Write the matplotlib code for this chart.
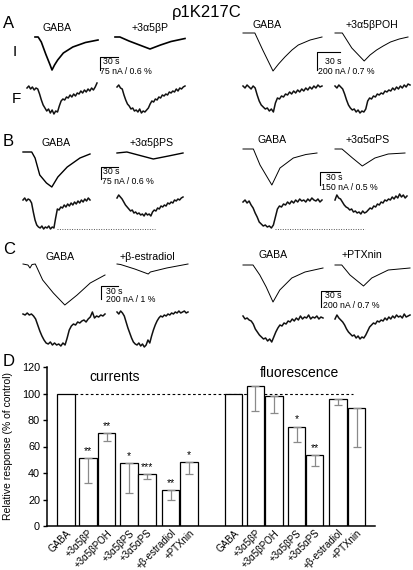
import numpy as np
import matplotlib
matplotlib.use("Agg")
import matplotlib.pyplot as plt

plt.rcParams["font.family"] = ["Liberation Sans", "DejaVu Sans"]

# -----------------------------
# Panel D: summary bars (% of GABA control)
# -----------------------------

conditions = ["GABA", "+3α5βP", "+3α5βPOH", "+3α5βPS", "+3α5αPS", "+β-estradiol", "+PTXnin"]
currents = [100, 51, 70, 47.5, 39, 27, 48]
currents_low = [100, 32.5, 64, 25, 35.5, 20, 39]
currents_stars = ["", "**", "**", "*", "***", "**", "*"]
fluor = [100, 106, 98, 75, 53.5, 95.5, 89]
fluor_low = [100, 87, 85, 63.5, 45, 91, 59.5]
fluor_stars = ["", "", "", "*", "**", "", ""]

# -----------------------------
# Example traces (pixels below the trace start)
# I = current (t in 0..1, smooth), F = fluorescence (evenly sampled)
# -----------------------------

a_gaba_i_t = [0, 0.05, 0.1, 0.17, 0.24, 0.27, 0.31, 0.36, 0.45, 0.6, 0.8, 1.0]
a_gaba_i = [0, 0, 5, 17, 28, 33, 28, 23, 16, 10, 5.5, 3]
a_bp_i_t = [0, 0.07, 0.2, 0.35, 0.5, 0.65, 0.8, 1.0]
a_bp_i = [0, 0, 4, 8, 12, 8, 4.5, 1.5]
a2_gaba_i_t = [0, 0.15, 0.25, 0.38, 0.45, 0.53, 0.62, 0.7, 0.85, 1.0]
a2_gaba_i = [0, 0, 17, 38, 31, 24, 17, 12, 7, 4]
a2_poh_i_t = [0, 0.1, 0.23, 0.4, 0.48, 0.57, 0.66, 0.76, 0.88, 1.0]
a2_poh_i = [0, 0, 15, 28, 22, 17, 13, 9, 6, 4]

b_gaba_i_t = [0, 0.13, 0.18, 0.25, 0.35, 0.43, 0.52, 0.66, 0.85, 1.0]
b_gaba_i = [0, 0, 6, 23, 31, 35, 25, 15, 6, 2]
b_bps_i_t = [0, 0.15, 0.35, 0.55, 0.78, 1.0]
b_bps_i = [1, 0, 3.5, 7, 4, 1]
b2_gaba_i_t = [0, 0.14, 0.23, 0.39, 0.5, 0.68, 0.85, 1.0]
b2_gaba_i = [0, 0, 16, 36, 19, 9, 5.5, 4]
b2_aps_i_t = [0, 0.1, 0.25, 0.39, 0.57, 0.76, 1.0]
b2_aps_i = [0, 0, 9, 17, 9, 5, 4]

c_gaba_i_t = [0, 0.06, 0.085, 0.11, 0.15, 0.24, 0.37, 0.51, 0.66, 0.82, 1.0]
c_gaba_i = [0, 1, 4, 0.5, 0, 16, 29, 41, 31, 19, 11]
c_estr_i_t = [0, 0.05, 0.25, 0.44, 0.47, 0.7, 1.0]
c_estr_i = [0, 0.5, 5, 10, 8, 4, 0]
c2_gaba_i_t = [0, 0.125, 0.21, 0.29, 0.375, 0.46, 0.61, 0.775, 1.0]
c2_gaba_i = [0, 0, 10, 22, 37, 25, 13, 7, 3]
c2_ptx_i_t = [0, 0.09, 0.2, 0.38, 0.49, 0.71, 1.0]
c2_ptx_i = [0, 0, 10, 21, 13, 5, 3]

a_gaba_f = [2, 0, 3, 1, 4, 2, 3, 8, 14, 19, 22, 25, 23, 27, 24, 28, 25, 26, 20, 15,
            13, 14, 11, 12, 9, 11, 8, 10, 7, 8, 5, 7, 4, 6, 3, 5, 2, 4, 1, -3]
a_bp_f = [1, -1, 2, 3, 9, 14, 18, 20, 23, 22, 25, 24, 26, 23, 27, 25, 26, 24, 22, 18,
          15, 16, 13, 14, 11, 12, 9, 10, 8, 9, 6, 7, 5, 6, 3, 5, 2, 3, 1, 0]
a2_gaba_f = [0, 2, -1, 1, 3, 0, 2, 9, 15, 19, 21, 23, 22, 25, 23, 26, 17, 12, 13, 10,
             11, 8, 9, 6, 8, 5, 7, 4, 6, 3, 5, 2, 4, 1, 3, 0, 2, -1, 1, 0]
a2_poh_f = [0, 2, -1, 1, 3, 8, 14, 19, 22, 24, 23, 26, 24, 27, 25, 26, 23, 15, 12, 13,
            10, 11, 8, 9, 7, 8, 5, 6, 4, 5, 2, 4, 1, 3, 0, 2, -1, 1, -2, -1]

b_gaba_f = [2, 0, 3, 1, 2, 5, 14, 22, 27, 29, 30, 28, 31, 29, 30, 28, 31, 29, 30, 20,
            11, 12, 9, 10, 7, 9, 6, 8, 5, 7, 4, 6, 3, 5, 2, 4, 1, 3, 0, 2]
b_bps_f = [2, -1, 1, 3, 6, 9, 11, 13, 15, 14, 17, 16, 18, 17, 19, 18, 20, 17, 19, 18,
           20, 16, 14, 15, 12, 13, 10, 11, 9, 10, 7, 8, 6, 7, 4, 5, 3, 4, 2, 1]
b2_gaba_f = [2, 0, 3, 1, 5, 8, 13, 17, 22, 24, 26, 25, 27, 26, 28, 25, 17, 9, 6, 7,
             4, 5, 2, 4, 1, 3, 0, 2, -1, 1, 0, 2, -1, 1, -2, 0, 1, -1, 2, 0]
b2_aps_f = [3, -2, 1, 2, 5, 8, 10, 11, 13, 12, 15, 14, 16, 15, 17, 14, 16, 15, 13, 11,
            12, 9, 10, 7, 8, 5, 6, 3, 4, 2, 3, 0, 2, -1, 1, -3, 0, -2, 1, -1]

c_gaba_f = [0, 1, -1, 1, 0, 2, 5, 11, 17, 22, 26, 29, 30, 28, 31, 29, 31, 30, 32, 29,
            31, 24, 16, 12, 10, 11, 8, 9, 7, 6, 8, 5, 3, -2, 4, 2, 3, 1, 2, 0]
c_estr_f = [0, 2, -1, 1, 4, 10, 16, 21, 26, 30, 32, 33, 31, 34, 32, 35, 33, 28, 31, 24,
            18, 13, 9, 6, 4, 5, 3, 4, 2, 3, 1, 2, 0, 1, -1, 1, 0, -1, 1, 0]
c2_gaba_f = [-2, 1, 0, 2, 3, 6, 11, 14, 17, 19, 21, 20, 23, 21, 24, 19, 14, 10, 7, 8,
             5, 6, 3, 4, 1, 3, 0, 2, -2, 1, -1, 0, -3, 1, -1, 0, -2, 1, -1, 0]
c2_ptx_f = [1, -3, 0, 2, 4, 7, 11, 14, 16, 18, 17, 20, 18, 21, 19, 20, 17, 13, 9, 7,
            5, 6, 3, 4, 2, 3, 0, 2, -1, 1, -2, 0, -3, -1, -2, 0, -4, -1, -2, -3]

# -----------------------------
# Figure + pixel overlay for the trace panels
# -----------------------------

W, H = 414, 570
fig = plt.figure(figsize=(W / 100, H / 100), dpi=100)
ov = fig.add_axes([0, 0, 1, 1])
ov.set_xlim(0, W)
ov.set_ylim(H, 0)
ov.axis("off")
ov.set_zorder(2)

# (t, amp, x0, width, y0, linewidth)
i_traces = [
    (a_gaba_i_t, a_gaba_i, 35, 63, 37, 1.2),
    (a_bp_i_t, a_bp_i, 115, 70, 37, 1.2),
    (a2_gaba_i_t, a2_gaba_i, 243, 79, 33, 0.7),
    (a2_poh_i_t, a2_poh_i, 335, 73, 33, 0.7),
    (b_gaba_i_t, b_gaba_i, 23, 67, 152, 1.0),
    (b_bps_i_t, b_bps_i, 117, 66, 152, 1.0),
    (b2_gaba_i_t, b2_gaba_i, 243, 74, 149, 0.7),
    (b2_aps_i_t, b2_aps_i, 335, 70, 149, 0.7),
    (c_gaba_i_t, c_gaba_i, 23, 82, 264, 0.7),
    (c_estr_i_t, c_estr_i, 117, 71, 264, 0.7),
    (c2_gaba_i_t, c2_gaba_i, 243, 80, 265, 0.7),
    (c2_ptx_i_t, c2_ptx_i, 335, 75, 265, 0.7),
]
for t, amp, x0, w, y0, lw in i_traces:
    ov.plot(x0 + np.asarray(t) * w, y0 + np.asarray(amp), color="black", lw=lw,
            solid_joinstyle="round")

# (amp, x0, width, y0)
f_traces = [
    (a_gaba_f, 27, 70, 86), (a_bp_f, 117, 68, 86),
    (a2_gaba_f, 243, 79, 86), (a2_poh_f, 335, 75, 86),
    (b_gaba_f, 23, 67, 198), (b_bps_f, 117, 66, 196),
    (b2_gaba_f, 243, 79, 200), (b2_aps_f, 335, 72, 197),
    (c_gaba_f, 23, 82, 314), (c_estr_f, 117, 71, 312),
    (c2_gaba_f, 243, 80, 318), (c2_ptx_f, 335, 75, 318),
]
for amp, x0, w, y0 in f_traces:
    x = x0 + np.linspace(0, w, len(amp))
    ov.plot(x, y0 + np.asarray(amp), color="#111111", lw=1.1)

# dotted reference at the GABA fluorescence minimum (panel B)
ov.plot([57, 155], [229, 229], color="#555555", lw=0.7, ls=(0, (1, 1.5)))
ov.plot([275, 365], [229, 229], color="#555555", lw=0.7, ls=(0, (1, 1.5)))

# scale bars: (x, y_top, y_bottom, x_end, line1 pos, line2 pos, label)
scalebars = [
    (100, 57, 70, 118, (103, 62), (100, 71), "75 nA / 0.6 %"),
    (317, 52, 70, 340, (325, 62), (318, 72), "200 nA / 0.7 %"),
    (101, 167, 179, 118, (103, 172), (102, 182), "75 nA / 0.6 %"),
    (320, 172, 185, 340, (326, 178), (321, 187), "150 nA / 0.5 %"),
    (101, 286, 299, 118, (106, 291), (106, 300), "200 nA / 1 %"),
    (321, 291, 307, 340, (325, 296), (323, 306), "200 nA / 0.7 %"),
]
for xs, yt, yb, xe, p1, p2, lab in scalebars:
    ov.plot([xe, xs, xs], [yt, yt, yb], color="black", lw=0.8)
    ov.text(p1[0], p1[1], "30 s", fontsize=6.3, va="center", ha="left")
    ov.text(p2[0], p2[1], lab, fontsize=6.3, va="center", ha="left")

# condition labels above traces
trace_labels = [
    (57, 28, "GABA"), (150, 28, "+3α5βP"),
    (267, 25, "GABA"), (372, 25, "+3α5βPOH"),
    (56, 143, "GABA"), (152, 143, "+3α5βPS"),
    (272, 140, "GABA"), (368, 140, "+3α5αPS"),
    (60, 257, "GABA"), (147, 257, "+β-estradiol"),
    (273, 255, "GABA"), (362, 255, "+PTXnin"),
]
for x, y, s in trace_labels:
    ov.text(x, y, s, fontsize=7.6, ha="center", va="center")

ov.text(207, 12, "ρ1K217C", fontsize=12, ha="center", va="center")
for x, y, s in [(3, 23, "A"), (3, 142, "B"), (3, 250, "C"), (3, 362, "D")]:
    ov.text(x, y, s, fontsize=12, ha="left", va="center")
ov.text(13, 52, "I", fontsize=11, ha="left", va="center")
ov.text(12, 99, "F", fontsize=11, ha="left", va="center")

# -----------------------------
# Panel D axes
# -----------------------------

ax = fig.add_axes([47 / W, 1 - 526 / H, 328 / W, 159 / H])
ax.patch.set_visible(False)

pos = np.array([0, 1.19, 2.19, 3.41, 4.38, 5.65, 6.65])
pos_f = pos + 9.05
bw = 0.95

for p, vals, low, stars in [(pos, currents, currents_low, currents_stars),
                            (pos_f, fluor, fluor_low, fluor_stars)]:
    vals = np.asarray(vals, float)
    low = np.asarray(low, float)
    ax.bar(p, vals, width=bw, color="white", edgecolor="black", linewidth=0.9, zorder=2)
    ax.errorbar(p[1:], vals[1:], yerr=[vals[1:] - low[1:], np.zeros(len(p) - 1)],
                fmt="none", ecolor="#8a8a8a", elinewidth=0.9, capsize=2.6,
                capthick=0.9, zorder=3)
    for xi, v, s in zip(p, vals, stars):
        if s:
            ax.text(xi, v + 5.5, s, fontsize=7.5, ha="center", va="center")

ax.hlines(100, 0.5, 15.5, colors="black", linestyles=(0, (2.4, 2.2)), linewidth=0.8, zorder=1)

ax.set_xlim(-1.03, 16.7)
ax.set_ylim(0, 120)
ax.set_yticks(range(0, 121, 20))
ax.tick_params(axis="y", labelsize=7.8, length=3, width=1, pad=2)
ax.set_xticks(np.concatenate([pos, pos_f]))
ax.set_xticklabels(conditions + conditions, rotation=45, ha="right",
                   rotation_mode="anchor", fontsize=7.0)
ax.tick_params(axis="x", length=0, pad=1.5)
for side in ["top", "right"]:
    ax.spines[side].set_visible(False)
for side in ["left", "bottom"]:
    ax.spines[side].set_linewidth(1.1)

ax.set_ylabel("Relative response (% of control)", fontsize=7.5)
ax.yaxis.set_label_coords(-0.104, 0.5)

ax.text(0.207, 0.937, "currents", transform=ax.transAxes, fontsize=10,
        ha="center", va="center")
ax.text(0.771, 0.962, "fluorescence", transform=ax.transAxes, fontsize=10,
        ha="center", va="center")

fig.savefig("out.png", dpi=100)
